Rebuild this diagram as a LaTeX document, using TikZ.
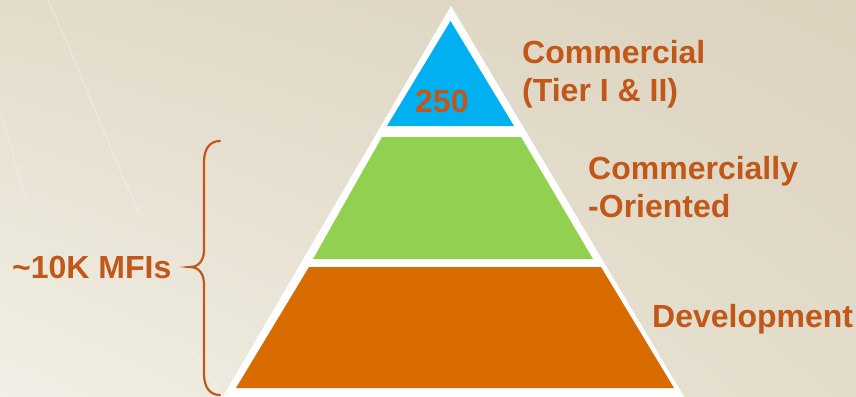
\documentclass[tikz,border=0pt]{standalone}
\usepackage{fontspec}
\setmainfont{Liberation Sans}
\usepackage{color}
\usetikzlibrary{shadings}

\definecolor{bgul}{HTML}{E3DCCA}
\definecolor{bgur}{HTML}{DCD3BF}
\definecolor{bgll}{HTML}{F1EFE6}
\definecolor{bglr}{HTML}{E3DCCA}
\definecolor{tierblue}{HTML}{00B0F0}
\definecolor{tiergreen}{HTML}{92D050}
\definecolor{tierorange}{HTML}{D86C00}
\definecolor{labelbrown}{HTML}{C1581A}

\tikzset{
  tierlabel/.style={anchor=base west, inner sep=0pt, align=left,
    text=labelbrown, font=\bfseries\fontsize{32}{38}\selectfont},
  tierfill/.style={draw=none},
  bracepath/.style={draw=labelbrown, line width=2.2pt, line cap=round}
}

\begin{document}
\begin{tikzpicture}[x=1pt,y=-1pt]
%[background]
\shade[upper left=bgul, upper right=bgur, lower left=bgll, lower right=bglr]
  (0,0) rectangle (856,396);
\useasboundingbox (0,0) rectangle (856,396);
\draw[white, opacity=0.25, line width=1.5pt] (48,0) .. controls (80,70) and (110,150) .. (140,215);
\draw[white, opacity=0.2, line width=1.2pt] (0,110) .. controls (12,150) and (20,180) .. (26,200);
\draw[white, opacity=0.25, line width=1.2pt] (185,340) .. controls (200,360) and (210,375) .. (222,396);

% pyramid
\fill[white] (451,6) -- (686,400) -- (221,400) -- cycle;
\fill[tierblue, tierfill] (450.5,21) -- (514,126) -- (387,126) -- cycle;
\fill[tiergreen, tierfill] (382,137) -- (521,137) -- (593,259) -- (313,259) -- cycle;
\fill[tierorange, tierfill] (309,267) -- (601,267) -- (674,388) -- (236,388) -- cycle;

\path (415,112) node (N250) [tierlabel] {250};
\path (522,101) node (Lcomm) [tierlabel] {Commercial\\(Tier I \& II)};
\path (588,217) node (Lorient) [tierlabel] {Commercially\\-Oriented};
\path (652,327) node (Ldev) [tierlabel] {Development};
\path (12,278) node (Lmfi) [tierlabel] {\textasciitilde10K MFIs};

% brace
\coordinate (Btop) at (220,141);
\coordinate (Btip) at (190,267);
\coordinate (Bbot) at (220,395);
\draw[bracepath] (Btop) .. controls (209,141) and (204,150) .. (204,162)
  -- (204,250) .. controls (204,260) and (199,267) .. (Btip)
  .. controls (199,267) and (204,274) .. (204,284)
  -- (204,374) .. controls (204,386) and (209,395) .. (Bbot);

\end{tikzpicture}
\end{document}
